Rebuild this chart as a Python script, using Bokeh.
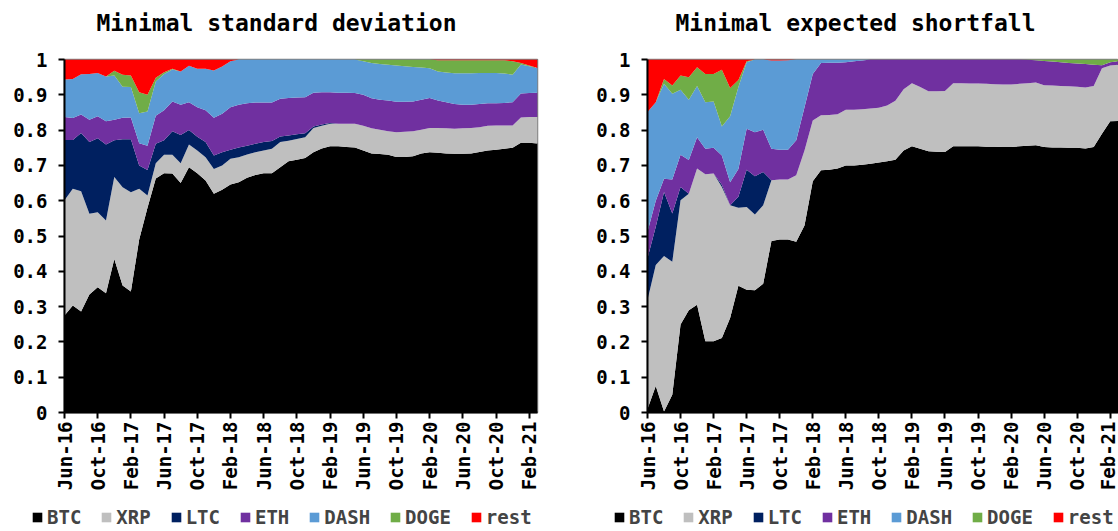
import math
import pandas as pd
from bokeh.plotting import figure
from bokeh.models import (ColumnDataSource, Range1d, FixedTicker, Legend, LegendItem,
                          NumeralTickFormatter)
from bokeh.core.properties import value
from bokeh.layouts import row, column
from bokeh.embed import file_html
from bokeh.resources import INLINE

# ---------------- data ----------------
months = list(pd.date_range("2016-06-01", periods=58, freq="MS").strftime("%b-%y"))
series = ["BTC", "XRP", "LTC", "ETH", "DASH", "DOGE", "rest"]
colors = ["#000000", "#bfbfbf", "#002060", "#7030a0", "#5b9bd5", "#70ad47", "#ff0000"]
y_ticks = [0, 0.1, 0.2, 0.3, 0.4, 0.5, 0.6, 0.7, 0.8, 0.9, 1]
x_tick_idx = list(range(0, 58, 4))
titles = ["Minimal standard deviation", "Minimal expected shortfall"]

# Minimal standard deviation (portfolio weights)
sd_btc = [.275, .303, .286, .334, .355, .338, .435, .360, .343, .490, .580, .663, .678, .677, .650,
          .695, .678, .657, .620, .631, .646, .652, .665, .673, .678, .678, .695, .712, .716, .721,
          .737, .748, .754, .754, .752, .751, .742, .734, .732, .730, .724, .724, .726, .734, .737,
          .736, .734, .733, .733, .734, .738, .742, .744, .747, .750, .764, .764, .762]
sd_xrp = [.326, .331, .341, .229, .212, .206, .232, .278, .281, .144, .035, .043, .052, .053, .056,
          .064, .064, .066, .070, .069, .073, .071, .066, .064, .064, .069, .071, .058, .059, .059,
          .069, .064, .064, .064, .066, .067, .070, .071, .069, .067, .070, .071, .071, .067, .069,
          .070, .071, .071, .072, .072, .070, .070, .069, .066, .063, .072, .073, .075]
sd_ltc = [.171, .138, .165, .203, .210, .215, .104, .136, .150, .066, .072, .055, .041, .067, .080,
          .041, .039, .043, .038, .037, .025, .028, .025, .024, .024, .022, .016, .015, .013, .011,
          .004, .004, .002, 0, 0, 0, 0, 0, 0, 0, 0, 0, 0, 0, 0,
          0, 0, 0, 0, 0, 0, 0, 0, 0, 0, 0, 0, 0]
sd_eth = [.065, .062, .052, .063, .062, .066, .058, .061, .062, .063, .069, .080, .085, .084, .086,
          .079, .084, .090, .107, .109, .121, .121, .120, .117, .112, .109, .107, .106, .104, .102,
          .096, .091, .087, .088, .088, .087, .088, .085, .085, .087, .086, .085, .084, .085, .085,
          .078, .074, .070, .067, .066, .066, .064, .063, .064, .066, .068, .068, .069]
sd_dash = [.106, .111, .114, .130, .123, .127, .126, .088, .086, .085, .097, .097, .103, .091, .094,
           .103, .109, .118, .134, .134, .130, .128, .124, .122, .122, .122, .111, .109, .108, .107,
           .094, .093, .093, .094, .094, .095, .095, .100, .101, .101, .103, .101, .098, .091, .084,
           .082, .084, .087, .089, .089, .088, .086, .086, .083, .078, .082, .076, .070]
sd_doge = [0, 0, 0, 0, 0, 0, .013, .034, .033, .059, .047, .010, .005, .002, 0,
           0, 0, 0, 0, 0, 0, 0, 0, 0, 0, 0, 0, 0, 0, 0,
           0, 0, 0, 0, 0, 0, .005, .010, .013, .015, .017, .019, .021, .023, .025,
           .032, .035, .037, .037, .037, .036, .036, .036, .038, .038, .004, .002, 0]
sd_rest = [.057, .055, .042, .041, .038, .048, .032, .043, .045, .093, .100, .052, .036, .026, .034,
           .018, .026, .026, .031, .020, .005, 0, 0, 0, 0, 0, 0, 0, 0, 0,
           0, 0, 0, 0, 0, 0, 0, 0, 0, 0, 0, 0, 0, 0, 0,
           .002, .002, .002, .002, .002, .002, .002, .002, .002, .005, .010, .017, .024]

# Minimal expected shortfall (portfolio weights)
es_btc = [.010, .075, .003, .050, .249, .290, .305, .202, .202, .211, .268, .359, .348, .346, .365,
          .486, .490, .490, .484, .530, .655, .686, .688, .691, .700, .700, .702, .705, .708, .712,
          .716, .742, .754, .747, .740, .739, .738, .754, .754, .754, .754, .753, .753, .752, .752,
          .754, .756, .757, .752, .751, .751, .750, .750, .748, .752, .790, .825, .826]
es_xrp = [.309, .343, .440, .377, .352, .330, .386, .473, .475, .428, .319, .221, .234, .215, .222,
          .172, .170, .170, .188, .212, .172, .156, .155, .154, .158, .158, .157, .156, .155, .158,
          .167, .174, .179, .175, .170, .171, .173, .179, .179, .178, .178, .178, .177, .177, .177,
          .177, .177, .178, .175, .175, .174, .174, .173, .173, .173, .185, .158, .159]
es_ltc = [.118, .108, .182, .137, .038, 0, 0, 0, 0, .006, 0, .031, .106, .108, .094,
          0, 0, 0, 0, 0, 0, 0, 0, 0, 0, 0, 0, 0, 0, 0,
          0, 0, 0, 0, 0, 0, 0, 0, 0, 0, 0, 0, 0, 0, 0,
          0, 0, 0, 0, 0, 0, 0, 0, 0, 0, 0, 0, 0]
es_eth = [.075, .074, .037, .096, .091, .095, .089, .072, .073, .083, .065, .079, .116, .125, .120,
          .089, .084, .084, .099, .123, .132, .148, .148, .146, .134, .137, .138, .139, .137, .130,
          .117, .084, .067, .078, .090, .090, .089, .067, .067, .068, .068, .069, .070, .071, .071,
          .069, .066, .063, .069, .068, .067, .066, .066, .066, .060, .009, .009, .010]
es_dash = [.339, .279, .269, .243, .184, .171, .145, .132, .131, .082, .187, .232, .188, .206, .199,
           .250, .253, .254, .229, .135, .041, .010, .009, .009, .008, .005, .003, 0, 0, 0,
           0, 0, 0, 0, 0, 0, 0, 0, 0, 0, 0, 0, 0, 0, 0,
           0, 0, 0, 0, 0, 0, 0, 0, 0, 0, 0, 0, 0]
es_doge = [0, 0, .014, .023, .041, .064, .053, .080, .078, .161, .080, .020, .003, 0, 0,
           0, 0, 0, 0, 0, 0, 0, 0, 0, 0, 0, 0, 0, 0, 0,
           0, 0, 0, 0, 0, 0, 0, 0, 0, 0, 0, 0, 0, 0, 0,
           0, .001, .002, .004, .006, .008, .010, .011, .013, .015, .016, .008, .005]
es_rest = [.149, .121, .055, .074, .045, .050, .022, .041, .041, .029, .081, .058, .005, 0, 0,
           .003, .003, .002, 0, 0, 0, 0, 0, 0, 0, 0, 0, 0, 0, 0,
           0, 0, 0, 0, 0, 0, 0, 0, 0, 0, 0, 0, 0, 0, 0,
           0, 0, 0, 0, 0, 0, 0, 0, 0, 0, 0, 0, 0]

FONT = "DejaVu Sans Mono"


def strip(width, height):
    f = figure(width=width, height=height, output_backend="svg", toolbar_location=None,
               x_range=Range1d(0, width), y_range=Range1d(0, height),
               min_border=0, min_border_left=0, min_border_right=0,
               min_border_top=0, min_border_bottom=0)
    f.axis.visible = False
    f.grid.visible = False
    f.outline_line_color = None
    return f


def make_title(width, text, cx):
    t = strip(width, 40)
    t.text(x=[cx], y=[18], text=[text], text_font=value(FONT), text_font_size="23px",
           text_font_style="bold", text_color="black", text_align="center",
           text_baseline="middle")
    return t


def make_fig(cols, width, border_left, border_right):
    src = ColumnDataSource(dict(x=list(range(len(months))),
                                **{s: c for s, c in zip(series, cols)}))
    p = figure(width=width, height=460, output_backend="svg", toolbar_location=None,
               x_range=Range1d(0, len(months) - 1), y_range=Range1d(0, 1),
               min_border_left=border_left, min_border_right=border_right,
               min_border_top=19, min_border_bottom=88)
    p.varea_stack(stackers=series, x="x", color=colors, source=src)

    p.xgrid.visible = False
    p.ygrid.visible = False
    p.outline_line_color = "#808080"
    p.outline_line_width = 1.5

    for ax in (p.xaxis[0], p.yaxis[0]):
        ax.axis_line_width = 2
        ax.axis_line_color = "black"
        ax.major_tick_line_width = 2
        ax.major_tick_line_color = "black"
        ax.major_tick_in = 0
        ax.major_tick_out = 6
        ax.minor_tick_line_color = None
        ax.major_label_text_font = FONT
        ax.major_label_text_font_size = "19px"
        ax.major_label_text_font_style = "bold"
        ax.major_label_text_color = "black"

    p.yaxis.ticker = FixedTicker(ticks=y_ticks)
    p.yaxis.formatter = NumeralTickFormatter(format="0.[0]")
    p.yaxis.major_label_standoff = 11

    p.xaxis.ticker = FixedTicker(ticks=x_tick_idx)
    p.xaxis.major_label_overrides = {i: months[i] for i in x_tick_idx}
    p.xaxis.major_label_orientation = math.pi / 2
    p.xaxis.major_label_standoff = 3
    return p, src


def make_legend_fig(width, x0, src):
    # legend strip: the same stacked areas, kept outside the strip's visible y range
    lf = figure(width=width, height=31, output_backend="svg", toolbar_location=None,
                x_range=Range1d(0, 1), y_range=Range1d(5, 6),
                min_border=0, min_border_left=0, min_border_right=0,
                min_border_top=0, min_border_bottom=0)
    lf.axis.visible = False
    lf.grid.visible = False
    lf.outline_line_color = None
    rends = lf.varea_stack(stackers=series, x="x", color=colors, source=src)
    legend = Legend(items=[LegendItem(label=s, renderers=[r]) for s, r in zip(series, rends)],
                    orientation="horizontal", location=(x0, 3))
    legend.label_text_font = FONT
    legend.label_text_font_size = "19px"
    legend.label_text_font_style = "bold"
    legend.glyph_width = 12
    legend.glyph_height = 12
    legend.label_standoff = 4
    legend.spacing = 19
    legend.padding = 0
    legend.margin = 0
    legend.border_line_color = None
    legend.background_fill_alpha = 0
    lf.add_layout(legend)
    return lf


p1, s1 = make_fig([sd_btc, sd_xrp, sd_ltc, sd_eth, sd_dash, sd_doge, sd_rest], 588, 64, 51)
p2, s2 = make_fig([es_btc, es_xrp, es_ltc, es_eth, es_dash, es_doge, es_rest], 530, 59, 0)
t1 = make_title(588, titles[0], 276)
t2 = make_title(530, titles[1], 267)
l1 = make_legend_fig(588, 31, s1)
l2 = make_legend_fig(530, 25, s2)

layout = column(row(t1, t2), row(p1, p2), row(l1, l2))
open("out.html", "w").write(file_html(layout, INLINE))
